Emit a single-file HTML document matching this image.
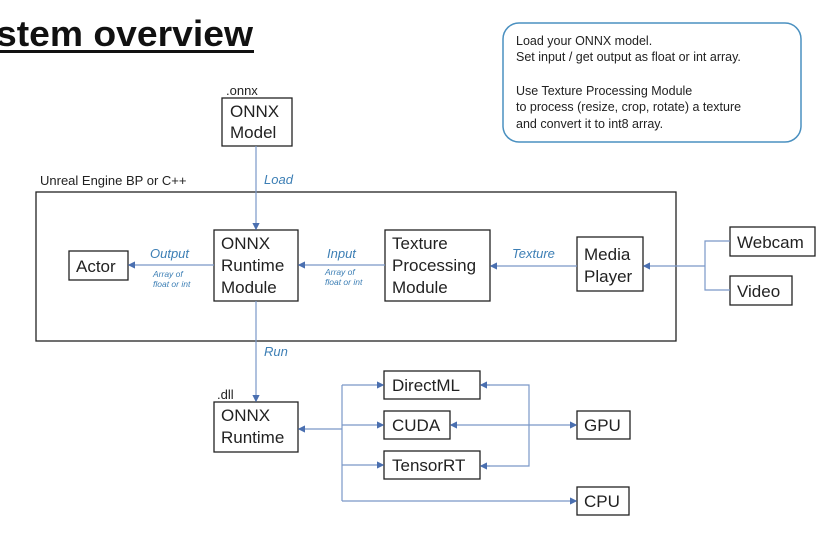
<!DOCTYPE html>
<html><head><meta charset="utf-8"><style>
body{margin:0;background:#fff;}
svg text{font-family:"Liberation Sans","Noto Sans CJK JP",sans-serif;}
</style></head><body>
<svg width="827" height="534" viewBox="0 0 827 534" xmlns="http://www.w3.org/2000/svg">
<defs>
<marker id="a" markerWidth="6" markerHeight="6" refX="5" refY="3" orient="auto"><path d="M0,0 L6,3 L0,6 z" fill="#4a6fb0"/></marker>
<marker id="b" markerWidth="6" markerHeight="6" refX="1" refY="3" orient="auto"><path d="M6,0 L0,3 L6,6 z" fill="#4a6fb0"/></marker>
</defs>
<text x="-4" y="46" font-size="36" font-weight="bold" fill="#111" textLength="257" lengthAdjust="spacingAndGlyphs">stem overview</text>
<rect x="0" y="50" width="254" height="3" fill="#111"/>
<rect x="503" y="23" width="298" height="119" rx="16" fill="none" stroke="#4a90c0" stroke-width="1.5"/>
<g font-size="12.5" fill="#222">
<text x="516" y="45">Load your ONNX model.</text>
<text x="516" y="61">Set input / get output as float or int array.</text>
<text x="516" y="95">Use Texture Processing Module</text>
<text x="516" y="111">to process (resize, crop, rotate) a texture</text>
<text x="516" y="128">and convert it to int8 array.</text>
</g>
<g fill="none" stroke="#222" stroke-width="1.3">
<rect x="222" y="98" width="70" height="48"/>
<rect x="36" y="192" width="640" height="149"/>
<rect x="69" y="251" width="59" height="29"/>
<rect x="214" y="230" width="84" height="71"/>
<rect x="385" y="230" width="105" height="71"/>
<rect x="577" y="237" width="66" height="54"/>
<rect x="730" y="227" width="85" height="29"/>
<rect x="730" y="276" width="62" height="29"/>
<rect x="214" y="402" width="84" height="50"/>
<rect x="384" y="371" width="96" height="28"/>
<rect x="384" y="411" width="66" height="28"/>
<rect x="384" y="451" width="96" height="28"/>
<rect x="577" y="411" width="53" height="28"/>
<rect x="577" y="487" width="52" height="28"/>
</g>
<g font-size="17" fill="#222">
<text x="230" y="117">ONNX</text><text x="230" y="138">Model</text>
<text x="76" y="272">Actor</text>
<text x="221" y="249">ONNX</text><text x="221" y="271">Runtime</text><text x="221" y="293">Module</text>
<text x="392" y="249">Texture</text><text x="392" y="271">Processing</text><text x="392" y="293">Module</text>
<text x="584" y="260">Media</text><text x="584" y="282">Player</text>
<text x="737" y="248">Webcam</text>
<text x="737" y="297">Video</text>
<text x="221" y="421">ONNX</text><text x="221" y="443">Runtime</text>
<text x="392" y="391">DirectML</text>
<text x="392" y="431">CUDA</text>
<text x="392" y="471">TensorRT</text>
<text x="584" y="431">GPU</text>
<text x="584" y="507">CPU</text>
</g>
<g font-size="13" fill="#222">
<text x="226" y="95">.onnx</text>
<text x="40" y="185">Unreal Engine BP or C++</text>
<text x="217" y="399">.dll</text>
</g>
<g font-size="13" fill="#3d7fb5" font-style="italic">
<text x="264" y="184">Load</text>
<text x="264" y="356">Run</text>
<text x="150" y="258">Output</text>
<text x="327" y="258">Input</text>
<text x="512" y="258">Texture</text>
</g>
<g font-size="8.5" fill="#3d7fb5" font-style="italic">
<text x="153" y="277">Array of</text><text x="153" y="287">float or int</text>
<text x="325" y="275">Array of</text><text x="325" y="285">float or int</text>
</g>
<g fill="none" stroke="#7a98c8" stroke-width="1.2">
<line x1="256" y1="146" x2="256" y2="229" marker-end="url(#a)"/>
<line x1="214" y1="265" x2="129" y2="265" marker-end="url(#a)"/>
<line x1="385" y1="265" x2="299" y2="265" marker-end="url(#a)"/>
<line x1="577" y1="266" x2="491" y2="266" marker-end="url(#a)"/>
<polyline points="730,241 705,241 705,290 730,290"/>
<line x1="705" y1="266" x2="644" y2="266" marker-end="url(#a)"/>
<line x1="256" y1="301" x2="256" y2="401" marker-end="url(#a)"/>
<line x1="342" y1="429" x2="299" y2="429" marker-end="url(#a)"/>
<line x1="342" y1="385" x2="342" y2="501"/>
<line x1="342" y1="385" x2="383" y2="385" marker-end="url(#a)"/>
<line x1="342" y1="425" x2="383" y2="425" marker-end="url(#a)"/>
<line x1="342" y1="465" x2="383" y2="465" marker-end="url(#a)"/>
<line x1="342" y1="501" x2="576" y2="501" marker-end="url(#a)"/>
<line x1="451" y1="425" x2="576" y2="425" marker-start="url(#b)" marker-end="url(#a)"/>
<polyline points="481,385 529,385 529,466 481,466"/>
<line x1="490" y1="385" x2="481" y2="385" marker-end="url(#a)"/>
<line x1="490" y1="466" x2="481" y2="466" marker-end="url(#a)"/>
</g>
</svg>
</body></html>
